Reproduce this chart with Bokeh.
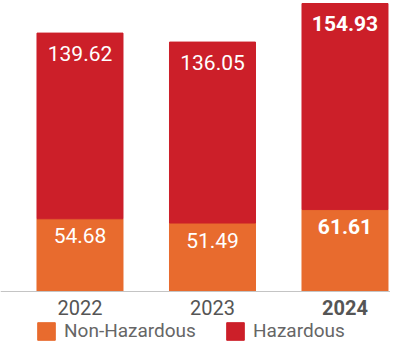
from bokeh.plotting import figure
from bokeh.models import ColumnDataSource, Range1d, Span, Legend, LegendItem
from bokeh.core.properties import value
from bokeh.embed import file_html
from bokeh.resources import INLINE

years = ["2022", "2023", "2024"]
non_hazardous = [54.68, 51.49, 61.61]
hazardous = [139.62, 136.05, 154.93]
year_styles = ["normal", "normal", "bold"]
label_styles = ["normal", "normal", "bold"]

RED = "#CC1F29"
ORANGE = "#E86B2E"
FONT = "Roboto"

xs = list(range(len(years)))
totals = [a + b for a, b in zip(non_hazardous, hazardous)]

src = ColumnDataSource(dict(
    x=xs, year=years, nh=non_hazardous, hz=hazardous, total=totals,
    nh_txt=[f"{v:.2f}" for v in non_hazardous],
    hz_txt=[f"{v:.2f}" for v in hazardous],
    ystyle=year_styles, lstyle=label_styles,
    zero=[0] * len(years),
))

p = figure(width=390, height=341, output_backend="svg", toolbar_location=None,
           x_range=Range1d(-0.6, 2.3434), y_range=Range1d(-37.59, 218.8),
           min_border=0, outline_line_color=None, tools="")
p.axis.visible = False
p.grid.visible = False
p.background_fill_color = "white"
p.border_fill_color = "white"

bw = 86 / 132.5
r_nh = p.vbar(x="x", bottom=0, top="nh", width=bw, color=ORANGE, source=src)
r_hz = p.vbar(x="x", bottom="nh", top="total", width=bw, color=RED, source=src)

p.add_layout(Span(location=0, dimension="width", line_color="#c4c4c4", line_width=1))

p.text(x="x", y="total", text="hz_txt", y_offset=20, text_align="center",
       text_baseline="middle", text_color="white", text_font=value(FONT),
       text_font_size="21px", text_font_style="lstyle", source=src)
p.text(x="x", y="nh", text="nh_txt", y_offset=17, text_align="center",
       text_baseline="middle", text_color="white", text_font=value(FONT),
       text_font_size="21px", text_font_style="lstyle", source=src)
p.text(x="x", y="zero", text="year", y_offset=16, text_align="center",
       text_baseline="middle", text_color="#555555", text_font=value(FONT),
       text_font_size="20px", text_font_style="ystyle", source=src)

def mk_legend(label, renderer, x):
    lg = Legend(items=[LegendItem(label=label, renderers=[renderer])],
                location=(x, -1), orientation="horizontal",
                glyph_width=22, glyph_height=22, label_standoff=7,
                padding=0, margin=0, border_line_alpha=0,
                background_fill_alpha=0, label_text_font=FONT,
                label_text_font_size="19px", label_text_color="#666666",
                label_height=22)
    p.add_layout(lg, "center")

mk_legend("Non-Hazardous", r_nh, 35)
mk_legend("Hazardous", r_hz, 224)

open("out.html", "w").write(file_html(p, INLINE))
